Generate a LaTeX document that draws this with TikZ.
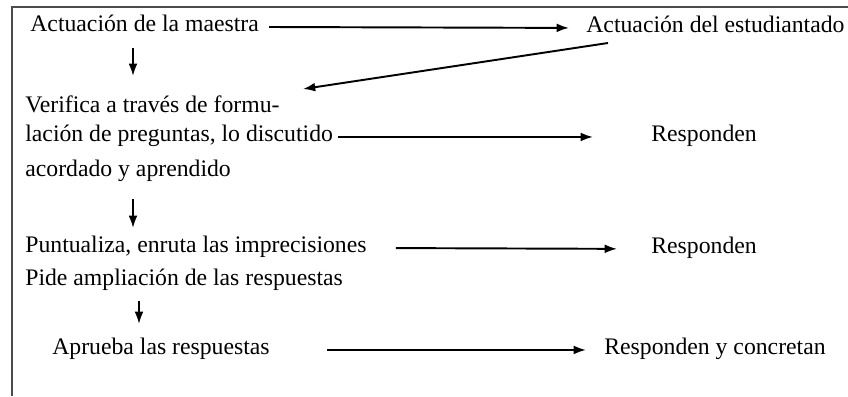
\documentclass[tikz,border=0pt]{standalone}
\usepackage{fontspec}
\setmainfont{Liberation Serif}
\usetikzlibrary{arrows.meta,positioning}
\tikzset{
  txt/.style   ={anchor=base west,inner sep=0pt,font=\fontsize{13.5}{16}\selectfont},
  flecha/.style={->,line width=1.1pt},
  marco/.style ={draw=black!70,line width=1.1pt},
  >={Latex[length=7pt,width=5pt]}
}

\begin{document}
\begin{tikzpicture}[x=0.02cm,y=-0.02cm]
\useasboundingbox (0,0) rectangle (848,396);

% -------- frame (open on right and bottom) --------
\draw[marco] (848,7) -- (12,7) -- (12,396);

% -------- actuaciones --------
\node[txt] (maestra) at (30,31) {Actuación de la maestra};
\node[txt] (estud)   at (586,32) {Actuación del estudiantado};

% -------- maestra column --------
\node[txt] (verifica) at (25,112) {Verifica a través de formu-};
\node[txt] (discut)   at (25,141) {lación de preguntas, lo discutido};
\node[txt] (acord)    at (25,176) {acordado y aprendido};
\node[txt] (puntual)  at (25,252) {Puntualiza, enruta las imprecisiones};
\node[txt] (pide)     at (25,285) {Pide ampliación de las respuestas};
\node[txt] (aprueba)  at (52,354) {Aprueba las respuestas};

% -------- estudiantado column --------
\node[txt] (resp1) at (651,141) {Responden};
\node[txt] (resp2) at (651,253) {Responden};
\node[txt] (resp3) at (604,354) {Responden y concretan};

% x of the down arrows
\coordinate (c1) at (133,0);
\coordinate (c2) at (139,0);

% wiring: horizontal
\draw[flecha, shorten <=0.2cm, shorten >=0.34cm] (maestra.mid east) -- (estud.mid west);
\draw[flecha, shorten <=0.1cm, shorten >=1.16cm] (discut.mid east) -- (resp1.mid west);
\draw[flecha, shorten <=0.58cm, shorten >=0.68cm] (puntual.mid east) -- (resp2.mid west);
\draw[flecha, shorten <=1.14cm, shorten >=0.36cm] (aprueba.mid east) -- (resp3.mid west);

% wiring: back from estudiantado
\draw[flecha] ([xshift=0.44cm,yshift=-0.22cm]estud.base west) -- ([xshift=5.56cm,yshift=0.46cm]verifica.base west);

% wiring: down
\draw[flecha, shorten <=0.34cm, shorten >=0.72cm] (maestra.base -| c1) -- (verifica.base -| c1);
\draw[flecha, shorten <=0.46cm, shorten >=0.48cm] (acord.base -| c1) -- (puntual.base -| c1);
\draw[flecha, shorten <=0.32cm, shorten >=0.6cm] (pide.base -| c2) -- (aprueba.base -| c2);

\end{tikzpicture}
\end{document}
